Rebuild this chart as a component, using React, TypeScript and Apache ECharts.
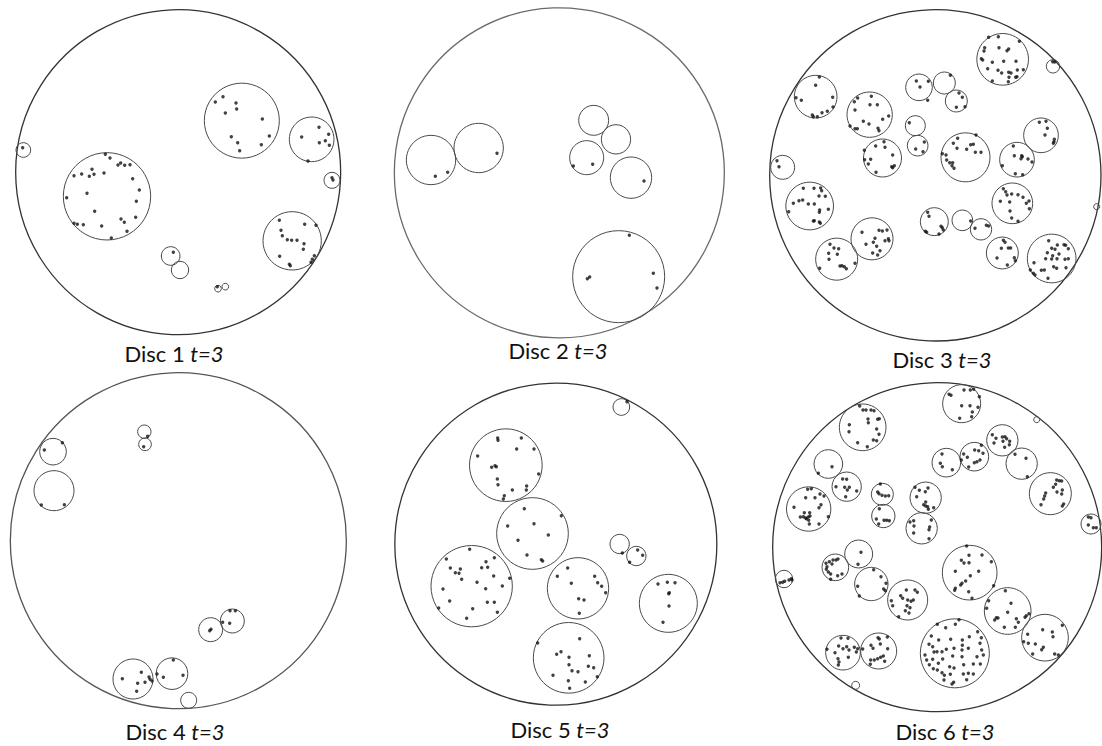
import React, { useEffect, useRef } from "react";
import * as echarts from "echarts";

const panelOrigins: number[][] = [[0, 0], [380, 0], [760, 0], [0, 370], [380, 370], [760, 370]];
const discNames = ["Disc 1", "Disc 2", "Disc 3", "Disc 4", "Disc 5", "Disc 6"];
const labelText = "t=3";
// label anchor in absolute px (centre of text)
const labelAnchors: number[][] = [[174, 353], [558, 350], [942, 359], [175, 731], [560, 729], [945, 731]];

const outerDiscs: number[][] = [
  [534.5, 516.5, 487.5],
  [538, 518.5, 495],
  [526, 526, 497],
  [535, 512, 504],
  [527.5, 522.5, 483],
  [531.5, 531.5, 493.5],
];
const outerColors = ["#333333", "#6a6a6a", "#333333", "#555555", "#333333", "#333333"];

const disc1Circles = [[70, 450, 22], [321, 589, 131], [725.5, 362, 112.5], [935, 418, 67], [996, 541, 24], [876.5, 722.5, 87.5], [512, 768, 28], [540, 810, 26], [654, 866, 10], [676, 860, 10]];
const disc1Points = [[68, 443], [316, 463], [330, 474], [354, 495], [362, 489], [374, 496], [390, 494], [222, 527], [245, 522], [268, 529], [276, 508], [282, 523], [312, 519], [398, 536], [418, 570], [261, 580], [200, 593], [409, 604], [407, 652], [284, 634], [363, 657], [373, 667], [222, 670], [232, 673], [250, 674], [305, 678], [381, 694], [334, 714],
  [646, 306], [669, 290], [708, 309], [710, 327], [676, 339], [787, 357], [694, 410], [713, 428], [808, 408], [784, 434], [719, 452],
  [957, 382], [986, 403], [905, 411], [976, 422], [958, 428], [988, 436], [924, 483],
  [996, 533], [999, 540],
  [838, 661], [914, 673], [948, 676], [843, 691], [847, 707], [862, 719], [875, 721], [891, 721], [912, 731], [910, 748], [839, 769], [943, 767], [937, 778], [933, 787], [868, 793], [871, 797],
  [520, 757], [652, 860]];

const disc2Circles = [[153, 480, 74], [296, 444, 74], [641, 361, 45], [708, 418, 44], [620, 473, 51], [753, 533, 62], [716, 830, 138]];
const disc2Points = [[166, 529], [203, 517], [351, 460], [580, 498], [638, 493], [792, 543], [748, 706], [622, 836], [629, 831], [820, 820], [831, 864]];

const disc3Circles = [[728, 178, 77.5], [879, 199, 20], [167, 290, 64], [329, 344, 68], [477, 262, 40], [553, 249, 33], [589, 303, 33], [466, 377, 30], [473, 437, 31], [367.5, 474, 57], [616.5, 472, 73.5], [771, 479, 52], [843, 406, 52], [68, 502, 36], [149, 618, 71.5], [336, 716.5, 63], [230, 777.5, 63], [523, 665, 42], [607, 661, 31], [663, 688, 32], [757, 610, 61], [1010, 620, 9], [727, 759, 48], [875, 775.5, 73]];
const disc3Points = [
  [686, 112], [715, 110], [674, 143], [672, 153], [717, 143], [746, 147], [778, 124], [741, 152], [664, 176], [668, 180], [697, 187], [731, 184], [768, 184], [683, 206], [714, 211], [725, 219], [746, 217], [753, 219], [772, 210], [790, 209], [697, 243], [747, 232], [767, 232], [771, 230], [745, 245],
  [878, 185], [884, 186],
  [178, 231], [167, 256], [108, 293], [124, 301], [218, 292], [219, 321], [202, 334], [186, 338], [157, 345], [172, 350], [160, 350],
  [293, 294], [334, 289], [283, 305], [330, 314], [352, 314], [285, 330], [368, 358], [386, 348], [310, 364], [327, 372], [270, 378], [285, 386], [292, 386], [354, 385], [357, 392],
  [469, 243], [480, 261], [505, 244], [503, 301],
  [571, 226],
  [597, 279], [607, 292], [615, 320], [589, 322],
  [448, 368],
  [493, 426], [467, 447], [489, 455],
  [347, 438], [372, 425], [375, 442], [313, 451], [332, 478], [314, 479], [325, 492], [398, 465], [403, 497], [398, 503], [395, 500], [348, 517],
  [593, 415], [648, 405], [580, 430], [632, 434], [640, 433], [591, 445], [620, 448], [646, 457], [663, 457], [547, 461], [558, 465], [560, 480], [569, 488], [578, 488], [576, 497], [582, 505],
  [760, 438], [763, 467], [785, 467], [787, 470], [783, 476], [804, 477], [816, 486], [727, 497], [766, 521], [788, 524],
  [838, 367], [858, 364], [862, 385], [855, 405], [883, 418], [882, 425], [880, 430],
  [51, 482], [57, 500],
  [130, 565], [162, 565], [182, 564], [185, 572], [100, 610], [117, 602], [128, 600], [145, 612], [163, 612], [177, 588], [196, 589], [205, 628], [179, 630], [86, 635], [178, 637], [160, 663], [163, 662], [178, 666], [181, 670],
  [306, 697], [357, 691], [367, 693], [381, 690], [385, 716], [387, 722], [345, 715], [340, 727], [318, 733], [350, 739], [375, 722], [360, 752], [338, 759], [353, 765],
  [210, 733], [222, 744], [236, 746], [206, 760], [232, 763], [207, 778], [240, 798], [246, 797], [253, 800], [259, 806], [179, 805], [285, 790],
  [503, 637], [507, 649], [496, 694], [500, 697], [543, 679], [547, 683], [550, 690], [537, 702],
  [632, 663], [645, 685], [679, 676], [686, 678],
  [730, 566], [737, 575], [741, 585], [755, 582], [774, 584], [789, 592], [721, 604], [749, 606], [799, 610], [807, 603], [808, 626], [750, 633], [755, 654], [774, 664],
  [730, 721], [735, 727], [745, 744], [752, 744], [724, 745], [763, 773], [711, 774], [766, 782], [742, 795],
  [866, 722], [892, 735], [912, 734], [917, 736], [875, 745], [885, 748], [925, 746], [862, 758], [878, 767], [897, 762], [822, 788], [857, 776], [875, 777], [891, 776], [915, 778], [925, 776], [811, 810], [844, 811], [853, 810], [881, 800], [890, 805], [918, 803], [820, 820], [825, 825], [864, 835]];

const disc4Circles = [[433, 185, 20], [435, 223, 19], [159, 245, 40], [162, 362, 60], [632, 779, 36], [697, 753, 36], [399, 927, 60], [516, 911, 47.5], [566, 991, 24]];
const disc4Points = [[443, 199], [431, 230], [133, 240], [187, 218], [124, 405], [193, 404], [629, 782], [633, 778], [690, 722], [706, 722], [668, 757], [689, 760], [367, 926], [424, 907], [447, 921], [450, 928], [456, 933], [435, 937], [413, 940], [410, 964], [520, 870], [471, 912], [490, 922], [549, 916]];

const disc5Circles = [[724, 111, 25], [377.5, 285.5, 109], [457.5, 490.5, 107.5], [275, 648.5, 122], [594, 655, 92], [719, 522, 29], [769, 558, 29], [865, 700, 87], [566, 863.5, 106]];
const disc5Points = [[741, 95],
  [353, 204], [354, 211], [424, 204], [410, 237], [462, 237], [293, 258], [335, 292], [345, 287], [349, 290], [476, 312], [352, 327], [354, 344], [397, 360], [440, 348], [439, 360], [373, 377], [370, 387],
  [433, 416], [544, 437], [383, 468], [462, 461], [505, 495], [414, 511], [441, 555], [484, 569], [488, 573],
  [269, 538], [199, 567], [343, 563], [211, 594], [241, 597], [226, 608], [237, 610], [245, 628], [305, 593], [318, 575], [323, 592], [341, 618], [291, 637], [317, 656], [389, 625], [367, 648], [189, 657], [209, 693], [322, 697], [343, 697], [176, 714], [278, 716], [352, 727], [260, 745],
  [563, 594], [532, 619], [574, 640], [644, 619], [653, 638], [665, 649], [677, 668], [596, 686], [612, 690], [598, 730],
  [727, 549], [773, 540], [788, 556], [749, 577],
  [834, 642], [862, 637], [885, 638], [866, 671], [868, 668], [867, 708], [849, 757],
  [599, 806], [473, 819], [530, 853], [543, 845], [567, 862], [628, 857], [567, 884], [576, 902], [594, 905], [625, 889], [641, 893], [519, 916], [652, 920], [565, 932], [616, 936], [569, 955]];

const disc6Circles = [[605, 101, 57], [830, 149, 9], [308, 172, 70], [205, 282, 43], [260, 350, 44], [146, 417, 66.5], [367, 373, 33], [370, 438, 35], [497, 383, 47], [485, 475, 47], [559, 278, 43], [643, 260, 43], [727, 211, 47], [785, 281, 47], [871, 371, 63], [993, 462, 30], [296, 552, 42], [226, 592, 40], [72, 627, 26], [334, 642, 50], [443, 690, 60], [629, 608, 82], [743, 723, 70], [855, 803, 70], [584.5, 850, 103.5], [249, 848, 52], [356, 843, 54], [287, 946, 12]];
const disc6Points = [
  [567, 73], [573, 76], [612, 60], [631, 60], [641, 58], [658, 80], [605, 107], [630, 107], [637, 126], [654, 112], [599, 145], [635, 140],
  [299, 108], [309, 120], [318, 120], [333, 120], [342, 122], [324, 147], [353, 148], [358, 146], [325, 158], [268, 164], [350, 177], [267, 185], [357, 193], [293, 218], [340, 210], [350, 212], [322, 230],
  [216, 290], [175, 310],
  [248, 327], [260, 328], [228, 350], [254, 352], [268, 352], [262, 360], [290, 363], [257, 380],
  [143, 358], [154, 356], [137, 383], [165, 383], [180, 372], [192, 378], [102, 412], [133, 428], [149, 428], [121, 441], [137, 444], [145, 441], [150, 438], [139, 446], [146, 451], [130, 440], [183, 404], [177, 413], [205, 440], [148, 462], [177, 462],
  [361, 342], [353, 366], [357, 371], [366, 376], [376, 378], [386, 377],
  [358, 416], [349, 447], [372, 451], [380, 451], [388, 452], [356, 462],
  [465, 352], [478, 361], [504, 354], [496, 365], [470, 380], [497, 396], [491, 404], [497, 408], [503, 410], [521, 413], [505, 418],
  [461, 452], [450, 456], [462, 468], [514, 450], [509, 471], [507, 479], [461, 489], [507, 506],
  [546, 252], [541, 280], [547, 290], [577, 299], [604, 270],
  [611, 252], [622, 262], [644, 240], [656, 242], [664, 226], [669, 250], [643, 278], [651, 275], [660, 270], [626, 291],
  [697, 194], [708, 205], [727, 201], [735, 200], [740, 206], [749, 214], [729, 214], [702, 219], [734, 232], [748, 224],
  [765, 253], [798, 265], [802, 320],
  [890, 330], [898, 332], [905, 333], [887, 343], [880, 352], [907, 360], [891, 366], [857, 369], [905, 372], [854, 378], [851, 387], [843, 404], [911, 402], [907, 408],
  [985, 441], [993, 443], [985, 465], [1000, 473], [1009, 473],
  [303, 547], [294, 583],
  [234, 567], [219, 570], [228, 570], [208, 575], [198, 580], [216, 582], [201, 590], [199, 598], [205, 606], [212, 612], [233, 617], [246, 612], [212, 628],
  [60, 638], [68, 637], [74, 634], [87, 630], [94, 626], [96, 630],
  [341, 599], [363, 620], [378, 640], [371, 657], [376, 662], [293, 649], [298, 678],
  [439, 660], [465, 660], [472, 667], [422, 677], [428, 685], [443, 690], [453, 694], [460, 690], [394, 692], [398, 707], [441, 707], [450, 713], [436, 722], [447, 729], [416, 740],
  [620, 528], [627, 556], [604, 571], [612, 579], [627, 578], [666, 555], [694, 575], [586, 604], [656, 604], [631, 617], [617, 633], [606, 640], [602, 645], [586, 655], [584, 661], [626, 665], [701, 647], [636, 685],
  [736, 662], [753, 700], [686, 692], [680, 715], [743, 727], [709, 743], [769, 746], [775, 757], [733, 772], [766, 772], [807, 731], [799, 737], [795, 742], [704, 750], [714, 744],
  [907, 766], [848, 779], [877, 786], [803, 793], [879, 800], [805, 820], [791, 815], [826, 822], [850, 832], [845, 839], [818, 852], [884, 852], [895, 855],
  [597, 749], [532, 763], [557, 773], [586, 763], [514, 798], [536, 810], [572, 808], [607, 810], [628, 800], [653, 785], [664, 803], [507, 823], [518, 830], [522, 846], [531, 845], [546, 845], [559, 838], [582, 835], [607, 826], [606, 840], [625, 835], [660, 820], [665, 840], [495, 855], [518, 868], [500, 870], [535, 880], [548, 867], [578, 858], [606, 860], [651, 860], [670, 855], [508, 884], [532, 900], [546, 908], [569, 890], [582, 894], [611, 884], [640, 882], [661, 882], [520, 896], [553, 916], [571, 913], [610, 912], [625, 910], [640, 912], [552, 930], [581, 937], [576, 942], [620, 929],
  [243, 804], [264, 805], [201, 838], [225, 848], [236, 828], [249, 836], [260, 830], [267, 840], [283, 832], [289, 846], [293, 836], [234, 866], [237, 876], [235, 885], [265, 862],
  [354, 803], [358, 807], [382, 801], [333, 826], [339, 835], [361, 822], [383, 836], [308, 837], [370, 858], [362, 862], [353, 866], [343, 870], [332, 870], [374, 874], [331, 883]];

const allCircles = [disc1Circles, disc2Circles, disc3Circles, disc4Circles, disc5Circles, disc6Circles];
const allPoints = [disc1Points, disc2Points, disc3Points, disc4Points, disc5Points, disc6Points];

const W = 1102;
const H = 746;

function toAbs(i: number, p: number[]): number[] {
  const [ox, oy] = panelOrigins[i];
  return p.length === 3 ? [ox + p[0] / 3, oy + p[1] / 3, p[2] / 3] : [ox + p[0] / 3, oy + p[1] / 3];
}

export default function App() {
  const ref = useRef<HTMLDivElement>(null);
  useEffect(() => {
    if (!ref.current) return;
    const chart = echarts.init(ref.current, null, { renderer: "svg" });
    const outerData = outerDiscs.map((c, i) => [...toAbs(i, c), i]);
    const innerData: number[][] = [];
    allCircles.forEach((arr, i) => arr.forEach((c) => innerData.push(toAbs(i, c))));
    const pointData: number[][] = [];
    allPoints.forEach((arr, i) => arr.forEach((p) => pointData.push(toAbs(i, p))));
    const labelData = labelAnchors.map((a, i) => [a[0], a[1], i]);

    chart.setOption({
      animation: false,
      backgroundColor: "#ffffff",
      grid: { left: 0, right: 0, top: 0, bottom: 0 },
      xAxis: { type: "value", min: 0, max: W, show: false },
      yAxis: { type: "value", min: 0, max: H, inverse: true, show: false },
      series: [
        {
          type: "custom",
          name: "discs",
          data: outerData,
          renderItem: (params: any, api: any) => {
            const c = api.coord([api.value(0), api.value(1)]);
            const r = api.size([api.value(2), 0])[0];
            return {
              type: "circle",
              shape: { cx: c[0], cy: c[1], r },
              style: { fill: "none", stroke: outerColors[api.value(3)], lineWidth: 1.3 },
            };
          },
          silent: true,
        },
        {
          type: "custom",
          name: "clusters",
          data: innerData,
          renderItem: (params: any, api: any) => {
            const c = api.coord([api.value(0), api.value(1)]);
            const r = api.size([api.value(2), 0])[0];
            return {
              type: "circle",
              shape: { cx: c[0], cy: c[1], r },
              style: { fill: "none", stroke: "#4a4a4a", lineWidth: 1 },
            };
          },
          silent: true,
        },
        {
          type: "scatter",
          name: "points",
          data: pointData,
          symbol: "circle",
          symbolSize: 3.4,
          itemStyle: { color: "#111111" },
          silent: true,
        },
        {
          type: "custom",
          name: "labels",
          data: labelData,
          renderItem: (params: any, api: any) => {
            const c = api.coord([api.value(0), api.value(1)]);
            const idx = api.value(2);
            return {
              type: "text",
              x: c[0],
              y: c[1],
              style: {
                text: `{n|${discNames[idx]} }{i|${labelText}}`,
                align: "center",
                verticalAlign: "middle",
                rich: {
                  n: { fontFamily: "Lato", fontSize: 22, fill: "#111" },
                  i: { fontFamily: "Lato", fontSize: 22, fontStyle: "italic", fill: "#111" },
                },
              },
            };
          },
          silent: true,
        },
      ],
    });
    return () => chart.dispose();
  }, []);
  return (
    <div
      ref={ref}
      style={{ position: "fixed", left: 0, top: 0, width: W, height: H, background: "#fff" }}
    />
  );
}
